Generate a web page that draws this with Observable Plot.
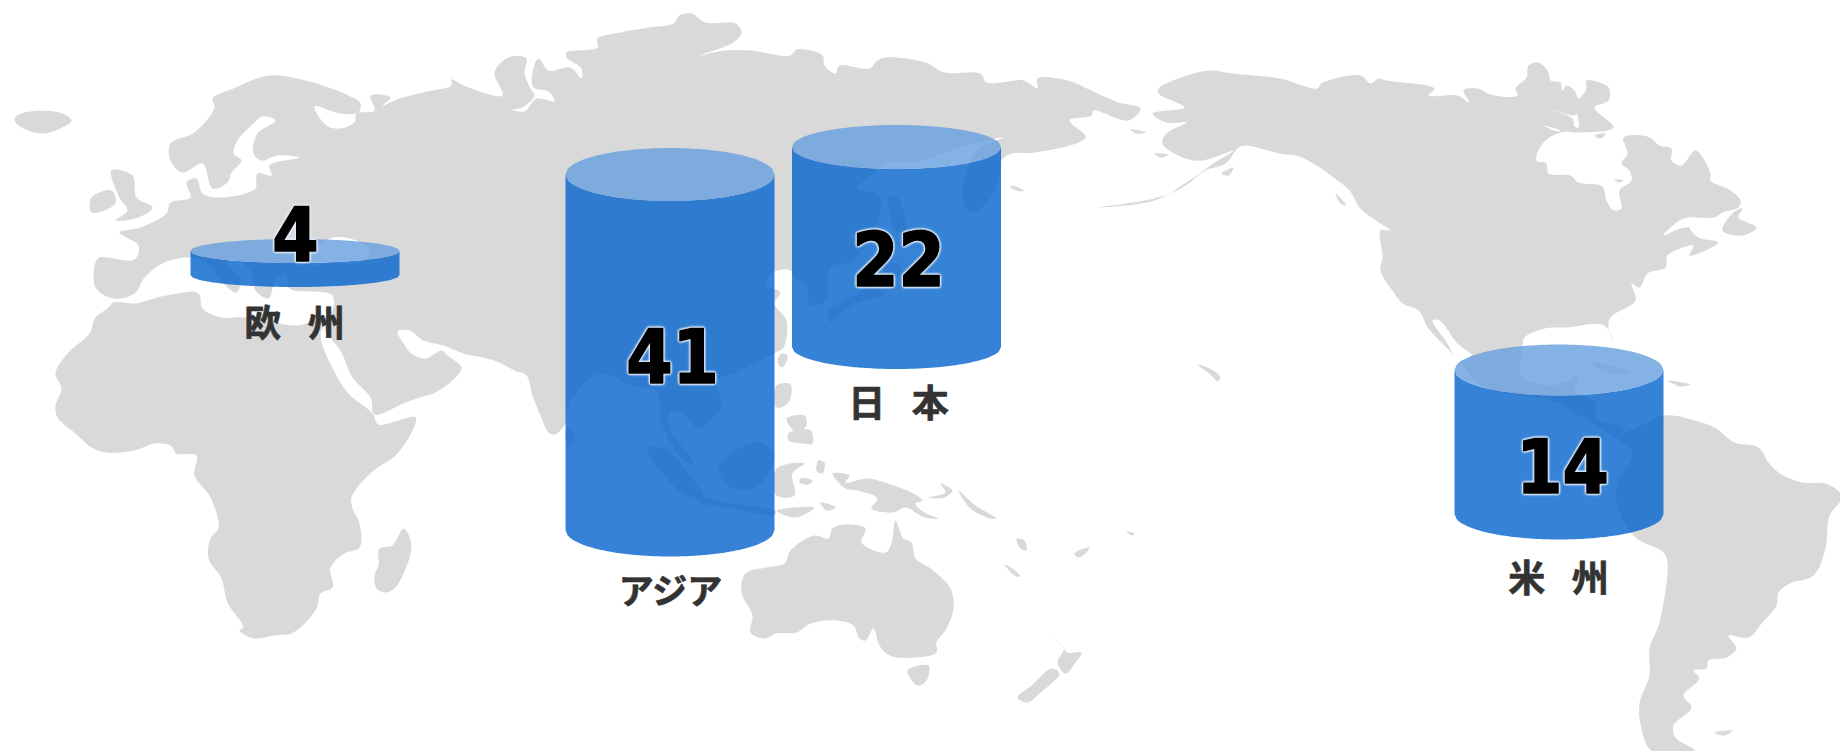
<!DOCTYPE html>
<html lang="ja">
<head>
<meta charset="utf-8">
<script src="https://cdn.jsdelivr.net/npm/d3@7"></script>
<script src="https://cdn.jsdelivr.net/npm/@observablehq/plot@0.6"></script>
<style>
html,body{margin:0;padding:0;background:#fff}
svg{display:block}
g[aria-label="text"]{filter:drop-shadow(0 0 1px #e4eefa) drop-shadow(0 0 1px #e4eefa) drop-shadow(0 0 .6px #e4eefa)}
g[aria-label="text"] + g[aria-label="text"]{filter:none}
</style>
</head>
<body>
<div id="chart"></div>
<script>
// ---- chart values ----
const regions = ["欧 州", "アジア", "日 本", "米 州"];
const values = [4, 41, 22, 14];
// where each region sits on the map (map units)
const mapAnchorX = [295, 670, 896.5, 1559];
const mapAnchorBase = [275, 530, 347, 514];

// ---- map outlines (map units) ----
const eurasia = [[95,287],[95,262],[99,257],[134,259],[138,245],[119,232],[140,227],[166,213],[170,202],[190,197],[186,182],[196,178],[202,193],[216,197],[245,193],[255,188],[257,173],[271,175],[269,165],[299,157],[277,155],[261,160],[253,153],[257,133],[275,120],[261,116],[253,123],[237,140],[233,153],[241,160],[231,172],[227,182],[212,188],[202,163],[182,172],[170,160],[170,143],[194,132],[214,107],[212,98],[233,88],[269,75],[305,80],[348,95],[360,103],[358,112],[340,113],[314,106],[326,125],[340,128],[354,122],[356,113],[374,110],[370,95],[390,97],[382,105],[399,98],[427,91],[451,85],[451,79],[463,85],[502,95],[494,72],[508,57],[526,58],[524,72],[530,88],[534,95],[522,107],[512,109],[524,111],[536,98],[554,101],[548,91],[533,87],[532,72],[538,58],[548,70],[570,67],[581,78],[581,68],[566,57],[566,52],[597,47],[597,38],[620,32],[648,27],[673,23],[679,15],[691,13],[705,22],[735,23],[741,32],[733,42],[699,55],[723,50],[750,50],[790,55],[796,49],[822,55],[824,65],[835,73],[839,65],[869,68],[877,60],[885,57],[925,62],[944,72],[980,73],[986,82],[1023,80],[1037,88],[1037,78],[1067,80],[1095,92],[1118,102],[1140,108],[1128,120],[1093,110],[1091,115],[1069,120],[1085,137],[1035,152],[1011,153],[1001,160],[1000,173],[988,200],[970,212],[962,197],[964,180],[976,150],[1003,137],[960,147],[920,160],[885,163],[873,173],[857,188],[877,193],[881,200],[873,230],[853,260],[830,267],[828,283],[826,300],[810,305],[806,287],[794,277],[790,270],[772,272],[766,284],[780,292],[774,303],[786,320],[783,347],[775,352],[735,372],[717,380],[720,407],[697,428],[690,420],[672,410],[667,423],[693,463],[683,460],[660,420],[657,392],[630,385],[600,373],[570,400],[564,425],[554,434],[548,432],[540,415],[532,395],[526,375],[514,370],[494,360],[463,353],[443,345],[423,340],[409,330],[397,331],[403,343],[411,353],[425,358],[441,350],[447,355],[461,367],[455,377],[435,392],[419,397],[403,403],[374,414],[370,397],[352,377],[340,350],[324,328],[330,317],[332,295],[289,288],[285,275],[275,280],[268,298],[255,290],[250,270],[232,258],[225,262],[240,280],[236,292],[225,285],[205,262],[186,257],[162,263],[144,277],[134,293],[113,298]];
const africa = [[113,302],[107,308],[95,317],[89,333],[67,353],[55,373],[61,388],[55,405],[57,417],[75,433],[91,447],[105,452],[134,450],[154,443],[170,445],[176,453],[196,455],[194,475],[210,497],[218,527],[210,538],[208,558],[221,578],[227,602],[243,627],[239,630],[253,638],[273,635],[293,632],[316,608],[320,593],[332,587],[330,567],[344,553],[358,548],[361,540],[358,520],[352,508],[351,497],[360,483],[376,468],[395,455],[411,432],[415,417],[378,424],[372,413],[350,395],[340,382],[320,333],[330,317],[316,320],[297,325],[273,322],[245,317],[221,317],[202,308],[198,293],[166,295],[134,303]];
const madagascar = [[403,528],[411,545],[395,587],[384,592],[376,588],[374,575],[378,565],[379,548],[392,545]];
const greatBritain = [[111,170],[132,175],[136,197],[152,207],[138,217],[115,220],[127,210],[119,197]];
const ireland = [[91,197],[111,190],[115,203],[91,212]];
const iceland = [[14,118],[24,112],[59,112],[71,120],[43,133],[18,125]];
const sriLanka = [[566,428],[572,430],[575,440],[568,445],[565,437]];
const sakhalin = [[889,195],[897,197],[905,230],[895,230]];
const honshu = [[873,287],[885,293],[857,303],[837,315],[830,322],[827,310],[845,300],[867,287]];
const hokkaido = [[885,262],[900,265],[898,276],[886,275]];
const taiwan = [[781,353],[787,355],[782,367],[777,362]];
const luzon = [[776,385],[790,384],[788,402],[776,407]];
const visayas = [[786,418],[804,415],[806,425],[796,432]];
const mindanao = [[788,433],[810,430],[812,443],[802,443],[788,440]];
const borneo = [[719,465],[758,442],[774,455],[754,488],[727,485]];
const sumatra = [[647,447],[667,450],[693,480],[703,497],[683,493],[660,470]];
const java = [[695,497],[730,503],[775,510],[775,514],[730,508],[697,501]];
const sulawesi = [[776,468],[804,463],[792,473],[794,495],[776,495]];
const halmahera = [[818,460],[824,462],[822,473],[816,470]];
const sunda = [[776,510],[814,507],[796,517],[780,513]];
const seram = [[800,478],[812,480],[808,484],[799,482]];
const buru = [[820,502],[835,507],[826,510]];
const newGuinea = [[832,473],[849,475],[845,482],[867,478],[893,485],[913,493],[922,500],[915,503],[924,512],[938,518],[924,517],[905,507],[893,512],[871,508],[877,498],[857,490],[845,488]];
const newBritain = [[928,497],[945,492],[940,483],[952,490],[944,497]];
const solomon = [[958,490],[975,505],[996,518],[990,518],[970,508]];
const vanuatu = [[1016,538],[1024,540],[1026,550],[1020,548]];
const caledonia = [[1004,564],[1012,568],[1020,576],[1014,575]];
const fiji = [[1074,553],[1089,547],[1085,553],[1078,557]];
const samoa = [[1126,531],[1134,533],[1132,535]];
const hawaii = [[1197,364],[1213,370],[1220,377],[1217,381],[1210,374]];
const kurile = [[1011,185],[1023,190],[1021,191],[1010,187]];
const australia = [[745,573],[766,567],[784,563],[790,550],[814,535],[828,538],[832,528],[845,524],[865,528],[861,542],[885,552],[891,543],[895,520],[903,538],[911,542],[915,558],[930,568],[950,588],[953,608],[946,628],[936,642],[936,652],[915,657],[889,655],[879,645],[873,628],[865,640],[859,638],[853,625],[836,620],[810,623],[796,632],[776,633],[764,638],[750,632],[752,615],[741,592]];
const tasmania = [[907,670],[928,665],[926,680],[917,685]];
const nzNorth = [[1049,635],[1061,645],[1067,652],[1081,652],[1075,662],[1065,673],[1057,662],[1063,648]];
const nzSouth = [[1051,668],[1059,673],[1039,693],[1027,702],[1017,697],[1031,685]];
const northAmerica = [[1158,88],[1178,78],[1209,70],[1232,73],[1279,78],[1317,88],[1321,83],[1360,75],[1370,83],[1378,78],[1386,80],[1434,88],[1428,95],[1457,95],[1469,102],[1463,90],[1477,88],[1493,95],[1517,95],[1515,88],[1526,77],[1528,65],[1538,62],[1548,72],[1550,80],[1560,82],[1562,90],[1566,85],[1574,90],[1578,98],[1586,88],[1586,80],[1608,87],[1608,100],[1594,107],[1613,127],[1582,132],[1560,132],[1542,143],[1536,160],[1546,163],[1548,173],[1570,175],[1578,182],[1602,186],[1606,200],[1613,210],[1621,208],[1619,190],[1631,180],[1629,170],[1621,163],[1627,153],[1623,137],[1647,136],[1659,145],[1671,148],[1671,160],[1681,165],[1695,150],[1710,173],[1710,180],[1730,190],[1740,200],[1738,207],[1722,212],[1714,217],[1683,218],[1663,235],[1680,228],[1695,226],[1689,227],[1698,237],[1718,242],[1689,255],[1693,245],[1667,255],[1665,267],[1647,273],[1639,287],[1631,283],[1635,300],[1610,317],[1608,327],[1615,347],[1604,325],[1566,327],[1544,328],[1524,337],[1522,345],[1520,375],[1528,380],[1552,385],[1568,380],[1578,375],[1574,392],[1596,402],[1596,418],[1623,428],[1619,438],[1600,428],[1584,418],[1556,402],[1480,385],[1461,362],[1449,350],[1428,328],[1418,310],[1402,303],[1394,293],[1380,270],[1382,257],[1380,230],[1390,230],[1380,223],[1360,208],[1349,190],[1333,177],[1319,167],[1299,156],[1279,153],[1260,148],[1244,145],[1238,147],[1225,163],[1205,170],[1182,187],[1154,198],[1096,207],[1154,200],[1186,182],[1210,165],[1233,150],[1201,160],[1182,157],[1162,143],[1166,133],[1186,122],[1166,122],[1152,113],[1184,107],[1158,93]];
const southAmerica = [[1665,415],[1694,420],[1714,427],[1734,442],[1758,447],[1768,462],[1778,472],[1801,482],[1825,483],[1840,493],[1840,500],[1829,515],[1825,548],[1813,575],[1789,583],[1778,592],[1776,605],[1762,622],[1748,637],[1728,635],[1736,648],[1726,657],[1708,660],[1706,668],[1693,670],[1699,678],[1683,695],[1691,707],[1673,725],[1675,737],[1694,750],[1651,750],[1641,728],[1639,703],[1649,675],[1649,648],[1659,622],[1667,562],[1663,552],[1633,535],[1615,492],[1632,452],[1619,438],[1640,425]];
const falklands = [[1714,732],[1732,730],[1724,735]];
const newfoundland = [[1742,208],[1732,213],[1722,230],[1742,235],[1756,227],[1738,217]];
const hispaniola = [[1667,380],[1690,384],[1680,386]];
const cuba = [[1592,363],[1631,372],[1620,374],[1595,367]];
const stLawrence = [[1130,129],[1146,132],[1136,133]];
const nunivak = [[1154,153],[1168,154],[1160,157]];
const kodiak = [[1221,173],[1233,167],[1228,175]];
const haida = [[1335,193],[1346,205],[1340,203]];
const southampton = [[1594,135],[1605,133],[1600,138]];
const belcher = [[1614,179],[1623,180],[1618,182]];
const land = {eurasia, africa, madagascar, greatBritain, ireland, iceland, sriLanka, sakhalin, honshu, hokkaido, taiwan, luzon, visayas, mindanao, borneo, sumatra, java, sulawesi, halmahera, sunda, seram, buru, newGuinea, newBritain, solomon, vanuatu, caledonia, fiji, samoa, hawaii, kurile, australia, tasmania, nzNorth, nzSouth, northAmerica, southAmerica, falklands, newfoundland, hispaniola, cuba, stLawrence, nunivak, kodiak, haida};

// inland water cut back out of the land
const blackSea = [[310,255],[330,238],[350,238],[370,250],[360,262],[330,262],[312,265]];
const gulfCalifornia = [[1432,320],[1439,320],[1457,343],[1471,355],[1459,360],[1445,340]];
const foxeChannel = [[1554,110],[1574,115],[1576,113],[1578,127],[1574,126],[1572,118]];
const parry = [[1542,125],[1560,130],[1558,131]];
const water = {blackSea, gulfCalifornia, foxeChannel, parry};
const islandsOnWater = {southampton, belcher};

const rowsOf = group => Object.entries(group).flatMap(([name, pts]) => pts.map(([x, y]) => ({name, x, y})));

// ---- cylinders ----
const bodyHeight = d3.scaleLinear().domain([4, 14, 22, 41]).range([24, 144, 200, 355.5]);
const capRadiusX = 104.5;
const capRy = d3.scaleOrdinal(regions, [12, 26.5, 22, 25.5]);

const cylinders = regions.map((region, i) => ({
  region, value: values[i], cx: mapAnchorX[i], base: mapAnchorBase[i],
  top: mapAnchorBase[i] - bodyHeight(values[i]), ry: capRy(region)
}));
const sweep = d3.range(-1, 1.0001, 0.02);
const bodyRows = cylinders.flatMap(c => sweep.map(t => {
  const h = c.ry * Math.sqrt(Math.max(0, 1 - t * t));
  return {region: c.region, x: c.cx + t * capRadiusX, y1: c.top + h, y2: c.base + h};
}));
const capRows = cylinders.flatMap(c => sweep.map(t => {
  const h = c.ry * Math.sqrt(Math.max(0, 1 - t * t));
  return {region: c.region, x: c.cx + t * capRadiusX, y1: c.top - h, y2: c.top + h};
}));

// text placement on the map
const numberAt = {"欧 州": [295, 237], "アジア": [672, 359], "日 本": [898, 262], "米 州": [1562, 469]};
const labelAt = {"欧 州": [294, 325], "アジア": [670, 592], "日 本": [898, 405], "米 州": [1558, 580]};

const chart = Plot.plot({
  width: 1840,
  height: 751,
  margin: 0,
  x: {domain: [0, 1840], range: [0, 1840], axis: null},
  y: {domain: [0, 751], range: [0, 751], axis: null},
  style: {background: "#fff", wordSpacing: "18px"},
  marks: [
    Plot.line(rowsOf(land), {x: "x", y: "y", z: "name", curve: "catmull-rom-closed", fill: "#d9d9d9", stroke: "none"}),
    Plot.line(rowsOf(water), {x: "x", y: "y", z: "name", curve: "catmull-rom-closed", fill: "#fff", stroke: "none"}),
    Plot.line(rowsOf(islandsOnWater), {x: "x", y: "y", z: "name", curve: "catmull-rom-closed", fill: "#d9d9d9", stroke: "none"}),
    Plot.area(bodyRows, {x1: "x", y1: "y1", y2: "y2", z: "region", fill: "rgb(2,99,204)", fillOpacity: 0.8}),
    Plot.area(capRows, {x1: "x", y1: "y1", y2: "y2", z: "region", fill: "rgb(101,159,221)", fillOpacity: 0.8}),
    Plot.text(cylinders, {
      x: d => numberAt[d.region][0], y: d => numberAt[d.region][1], text: d => String(d.value),
      fontFamily: '"DejaVu Sans Condensed","DejaVu Sans",sans-serif', fontWeight: "bold", fontSize: 74,
      fill: "#000", stroke: "#000", strokeWidth: 1.6, textAnchor: "middle", lineAnchor: "middle"
    }),
    Plot.text(cylinders, {
      x: d => labelAt[d.region][0], y: d => labelAt[d.region][1], text: "region",
      fontFamily: '"Noto Sans CJK JP",sans-serif', fontWeight: "bold",
      fontSize: d => d.region === "アジア" ? 35 : 37,
      fill: "#333", stroke: "#333", strokeWidth: 0.7, textAnchor: "middle", lineAnchor: "middle"
    })
  ]
});
document.getElementById("chart").append(chart);
</script>
</body>
</html>
